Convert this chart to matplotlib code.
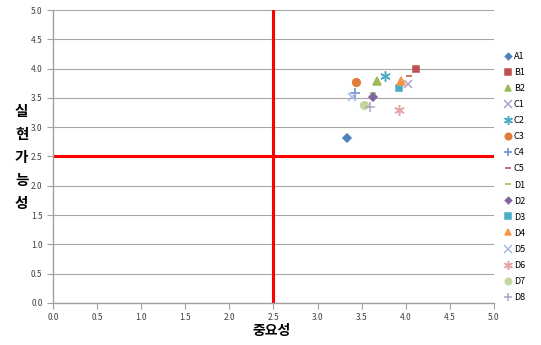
import matplotlib
matplotlib.use("Agg")
import matplotlib.pyplot as plt

plt.rcParams['font.family'] = ['Noto Sans CJK KR', 'DejaVu Sans']

# 항목별 중요성(x) / 실현가능성(y)
labels = ['A1', 'B1', 'B2', 'C1', 'C2', 'C3', 'C4', 'C5',
          'D1', 'D2', 'D3', 'D4', 'D5', 'D6', 'D7', 'D8']
importance = [3.33, 4.12, 3.67, 4.02, 3.77, 3.44, 3.43, 4.04,
              3.63, 3.63, 3.92, 3.95, 3.39, 3.92, 3.53, 3.59]
feasibility = [2.82, 4.00, 3.78, 3.73, 3.87, 3.77, 3.58, 3.88,
               3.59, 3.52, 3.67, 3.78, 3.52, 3.29, 3.38, 3.35]

markers = ['D', 's', '^', 'x', (6, 2, 0), 'o', '+', '_',
           '_', 'D', 's', '^', 'x', (6, 2, 0), 'o', '+']
colors = ['#4F81BD', '#C0504D', '#9BBB59', '#B3A2C7', '#4BACC6', '#E07B39', '#5B8BD0', '#C0504D',
          '#9BBB59', '#8064A2', '#4BACC6', '#F79646', '#A7B9E3', '#E6A5A4', '#C3D69B', '#B3A2C7']
msize = {'D': 3.8, 's': 5, '^': 5.5, 'x': 6, 'o': 5.5, '+': 7, '_': 5}

fig = plt.figure(figsize=(5.41, 3.45), dpi=100)
ax = fig.add_axes([0.098, 0.122, 0.815, 0.849])

for lab, x, y, m, c in zip(labels, importance, feasibility, markers, colors):
    ms = msize.get(m, 7) if isinstance(m, str) else 7.5
    ax.plot([x], [y], linestyle='none', marker=m, color=c, markersize=ms,
            markeredgewidth=1.1, label=lab)

ax.axvline(2.5, color='#FF0000', lw=2.2, zorder=1)
ax.axhline(2.5, color='#FF0000', lw=2.2, zorder=1)

ax.set_xlim(0, 5)
ax.set_ylim(0, 5)
ax.set_xticks([i * 0.5 for i in range(11)])
ax.set_yticks([i * 0.5 for i in range(11)])
ax.xaxis.set_major_formatter(matplotlib.ticker.FormatStrFormatter('%.1f'))
ax.yaxis.set_major_formatter(matplotlib.ticker.FormatStrFormatter('%.1f'))
ax.tick_params(labelsize=6, colors='#A0A0A0', labelcolor='#404040', length=4, width=0.8, direction='out')
ax.grid(axis='y', color='#A6A6A6', lw=0.8)
ax.set_axisbelow(True)
for s in ['top', 'right']:
    ax.spines[s].set_visible(False)
for s in ['left', 'bottom']:
    ax.spines[s].set_color('#A0A0A0')
    ax.spines[s].set_linewidth(1.0)

fig.text(0.503, 0.02, '중요성', ha='center', va='bottom', fontsize=10, fontweight='bold')
fig.text(0.04, 0.545, '\n'.join('실현가능성'), ha='center', va='center',
         fontsize=10.5, fontweight='bold', linespacing=1.55)

fig.legend(loc='center left', bbox_to_anchor=(0.925, 0.487), frameon=False,
           fontsize=6.5, handlelength=0.8, handletextpad=0.3, labelspacing=0.78,
           borderaxespad=0, markerscale=0.85)

fig.savefig('out.png', dpi=100)
